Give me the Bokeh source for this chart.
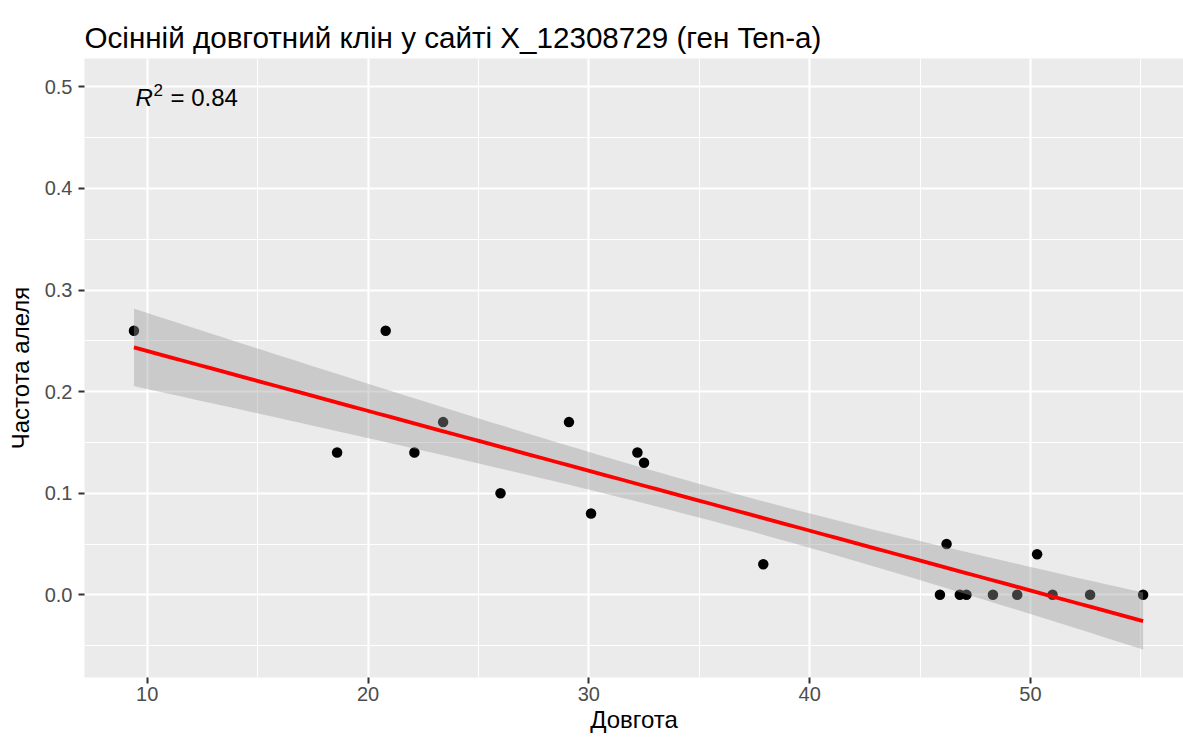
import numpy as np
from bokeh.plotting import figure
from bokeh.models import Range1d, FixedTicker, PrintfTickFormatter, ColumnDataSource
from bokeh.core.properties import value
from bokeh.embed import file_html
from bokeh.resources import INLINE

# ---- data ----
longitude = [9.4, 18.6, 20.8, 22.1, 23.4, 26.0, 29.1, 30.1, 32.2, 32.5, 37.9,
             45.9, 46.2, 46.8, 47.1, 48.3, 49.4, 50.3, 51.0, 52.7, 55.1]
allele_freq = [0.26, 0.14, 0.26, 0.14, 0.17, 0.10, 0.17, 0.08, 0.14, 0.13, 0.03,
               0.00, 0.05, 0.00, 0.00, 0.00, 0.00, 0.04, 0.00, 0.00, 0.00]
x_ticks = [10, 20, 30, 40, 50]
x_minor = [15, 25, 35, 45, 55]
y_ticks = [0.0, 0.1, 0.2, 0.3, 0.4, 0.5]
y_minor = [-0.05, 0.05, 0.15, 0.25, 0.35, 0.45]
title_text = "Осінній довготний клін у сайті X_12308729 (ген Ten-a)"
x_label = "Довгота"
y_label = "Частота алеля"
r2_text = "0.84"
annot_x = 9.47
annot_y = 0.5

FONT = "Liberation Sans"

# ---- linear fit with 95% confidence band (like geom_smooth(method="lm")) ----
xa = np.array(longitude)
ya = np.array(allele_freq)
n = len(xa)
b1, b0 = np.polyfit(xa, ya, 1)
resid = ya - (b0 + b1 * xa)
s = np.sqrt(np.sum(resid ** 2) / (n - 2))
sxx = np.sum((xa - xa.mean()) ** 2)
t_crit = 2.093  # t(0.975, df=19)
xs = np.linspace(xa.min(), xa.max(), 80)
fit = b0 + b1 * xs
se = s * np.sqrt(1.0 / n + (xs - xa.mean()) ** 2 / sxx)
lo = fit - t_crit * se
hi = fit + t_crit * se

p = figure(width=1183, height=737, output_backend="svg", toolbar_location=None,
           x_range=Range1d(7.16, 56.93), y_range=Range1d(-0.0814, 0.5279),
           min_border_left=84, min_border_right=0, min_border_top=58,
           min_border_bottom=60)

p.background_fill_color = "#EBEBEB"
p.border_fill_color = "white"
p.outline_line_color = None

# title
p.title.text = title_text
p.title.text_font = FONT
p.title.text_font_size = "29.6px"
p.title.text_font_style = "normal"
p.title.text_color = "black"
p.title.align = "left"
p.title.standoff = 10

# grids
for g in (p.xgrid, p.ygrid):
    g.grid_line_color = "white"
    g.grid_line_width = 2.2
    g.minor_grid_line_color = "white"
    g.minor_grid_line_width = 1.1

p.xaxis.ticker = FixedTicker(ticks=x_ticks, minor_ticks=x_minor)
p.yaxis.ticker = FixedTicker(ticks=y_ticks, minor_ticks=y_minor)
p.xaxis.formatter = PrintfTickFormatter(format="%d")
p.yaxis.formatter = PrintfTickFormatter(format="%.1f")

for ax in (p.xaxis, p.yaxis):
    ax.axis_line_color = None
    ax.major_tick_line_color = "#333333"
    ax.major_tick_line_width = 2
    ax.major_tick_out = 6
    ax.major_tick_in = 0
    ax.minor_tick_out = 0
    ax.minor_tick_in = 0
    ax.minor_tick_line_color = None
    ax.major_label_text_font = FONT
    ax.major_label_text_font_size = "20px"
    ax.major_label_text_color = "#4D4D4D"
    ax.axis_label_text_font = FONT
    ax.axis_label_text_font_size = "24px"
    ax.axis_label_text_font_style = "normal"
    ax.axis_label_text_color = "black"

p.xaxis.axis_label = x_label
p.yaxis.axis_label = y_label
p.xaxis.major_label_standoff = 3
p.yaxis.major_label_standoff = 6
p.xaxis.axis_label_standoff = 2
p.yaxis.axis_label_standoff = 8

# points (drawn first, band on top like ggplot)
src = ColumnDataSource(dict(x=longitude, y=allele_freq))
p.scatter("x", "y", source=src, size=10.5, color="black", line_color=None)

# confidence band
p.varea(x=xs, y1=lo, y2=hi, fill_color="#999999", fill_alpha=0.4)

# regression line
p.line(xs, fit, line_color="red", line_width=3.8)

# R^2 annotation
p.text(x=[annot_x], y=[annot_y], text=["R"], text_font=value(FONT),
       text_font_style="italic", text_font_size="24px", text_align="left",
       text_baseline="alphabetic", y_offset=10.7, text_color="black")
p.text(x=[annot_x], y=[annot_y], text=["2"], text_font=value(FONT),
       text_font_size="17px", text_align="left", text_baseline="alphabetic",
       x_offset=18, y_offset=3, text_color="black")
p.text(x=[annot_x], y=[annot_y], text=["= " + r2_text], text_font=value(FONT),
       text_font_size="24px", text_align="left", text_baseline="alphabetic",
       x_offset=35, y_offset=10.7, text_color="black")

open("out.html", "w").write(file_html(p, INLINE))
